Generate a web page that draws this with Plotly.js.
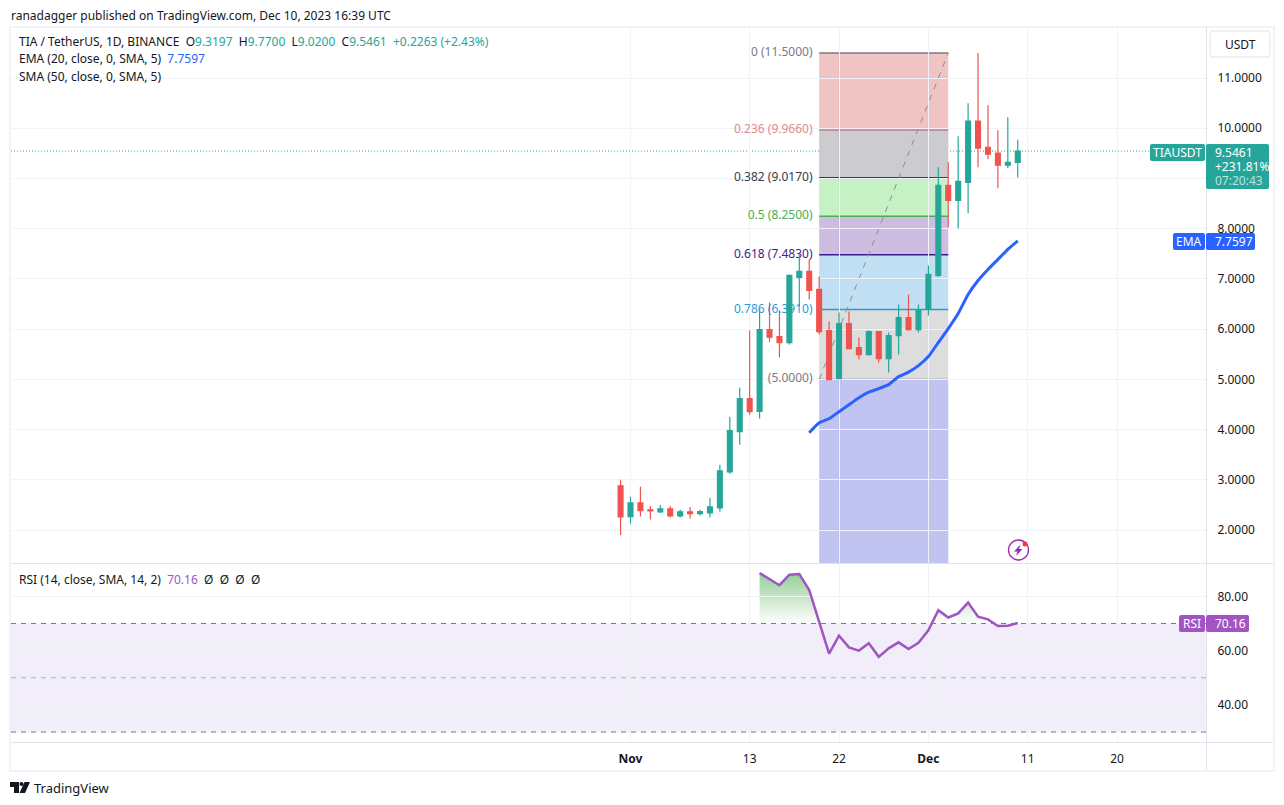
<!DOCTYPE html>
<html><head><meta charset="utf-8">
<script src="https://cdn.plot.ly/plotly-3.0.1.min.js"></script>
<style>html,body{margin:0;padding:0;background:#fff}#c{width:1284px;height:805px}</style></head>
<body><div id="c"></div>
<script>
const dates=["2023-10-31","2023-11-01","2023-11-02","2023-11-03","2023-11-04","2023-11-05","2023-11-06","2023-11-07","2023-11-08","2023-11-09","2023-11-10","2023-11-11","2023-11-12","2023-11-13","2023-11-14","2023-11-15","2023-11-16","2023-11-17","2023-11-18","2023-11-19","2023-11-20","2023-11-21","2023-11-22","2023-11-23","2023-11-24","2023-11-25","2023-11-26","2023-11-27","2023-11-28","2023-11-29","2023-11-30","2023-12-01","2023-12-02","2023-12-03","2023-12-04","2023-12-05","2023-12-06","2023-12-07","2023-12-08","2023-12-09","2023-12-10"];
const open=[2.88,2.268,2.541,2.402,2.362,2.422,2.282,2.362,2.328,2.342,2.441,3.16,3.958,4.616,4.363,5.993,5.853,5.733,7.03,7.15,6.791,5.973,5.015,6.112,5.633,5.494,5.953,5.414,5.873,6.232,5.993,6.392,7.07,8.865,8.566,8.925,10.142,9.623,9.504,9.264,9.3197];
const high=[3.0,2.661,2.86,2.481,2.501,2.481,2.402,2.461,2.402,2.641,3.3,4.257,4.836,5.973,6.392,6.531,6.372,7.09,7.489,7.389,7.05,6.152,6.332,6.352,5.833,5.973,5.953,5.933,6.491,6.691,6.491,7.269,9.224,9.324,9.843,10.501,11.499,10.461,9.963,10.222,9.77];
const low=[1.903,2.128,2.268,2.208,2.342,2.248,2.248,2.228,2.288,2.248,2.362,3.12,3.698,4.297,4.223,5.739,5.434,5.693,6.457,6.591,5.893,4.995,5.015,5.613,5.394,5.474,5.334,5.135,5.494,5.973,5.933,6.272,7.04,8.028,8.008,8.307,9.224,9.384,8.806,9.205,9.02];
const close=[2.262,2.541,2.388,2.382,2.422,2.282,2.362,2.328,2.368,2.461,3.18,3.978,4.616,4.357,5.993,5.839,5.733,7.07,7.15,6.771,5.953,4.995,6.112,5.613,5.494,5.953,5.414,5.873,6.232,5.993,6.392,7.09,8.865,8.566,8.945,10.142,9.604,9.484,9.264,9.324,9.5461];
const emaDates=dates.slice(19);
const ema=[3.938,4.137,4.217,4.357,4.496,4.636,4.746,4.816,4.895,5.055,5.145,5.274,5.454,5.733,6.013,6.312,6.691,6.97,7.19,7.389,7.589,7.7597];
const rsiDates=dates.slice(14);
const rsi=[88.6,86.4,84.1,88.0,88.25,82.3,70.6,58.9,65.5,61.2,60.0,62.7,57.7,60.85,63.05,60.6,62.9,67.5,74.9,72.2,73.7,77.7,72.5,71.5,69.05,69.2,70.16];
const fibPrices=[11.5,9.966,9.017,8.25,7.483,6.391,5.0];
const fibLabels=["0 (11.5000)","0.236 (9.9660)","0.382 (9.0170)","0.5 (8.2500)","0.618 (7.4830)","0.786 (6.3910)","(5.0000)"];
const fibStart="2023-11-20", fibEnd="2023-12-03";
const priceTicks=[2,3,4,5,6,7,8,9,10,11];
const priceTickLabels=["2.0000","3.0000","4.0000","5.0000","6.0000","7.0000","8.0000","","10.0000","11.0000"];
const rsiTicks=[80,60,40];
const rsiTickLabels=["80.00","60.00","40.00"];
const xTicks=["2023-11-01","2023-11-13","2023-11-22","2023-12-01","2023-12-11","2023-12-20"];
const xTickLabels=["<b>Nov</b>","13","22","<b>Dec</b>","11","20"];
const lastPrice=9.5461, lastEma=7.7597, lastRsi=70.16;

const FONT='"Noto Sans", sans-serif', INK='#131722', TEAL='#26a69a', RED='#ef5350', BLUE='#2962ff', PURP='#a154c2';
const W=1206-11, H=742-27-0, T=27;
const px=x=>(x-11)/1195, py=y=>(742-y)/715;
const fibLevelColors=['#787b86','#cc7a80','#3a3d46','#4caf50','#3f1d91','#2b9bd8','#787b86'];
const fibBandColors=['#f1c4c4','#cccbd0','#c5f1c5','#cdbde0','#c2e0f3','#dddddd','#c1c3f0'];
const yMin=1.334,yMax=12.017;
const rsiMin=26.33,rsiMax=92.1;

const shapes=[];
const pLine=(x0,y0,x1,y1,c,w,layer)=>shapes.push({type:'line',xref:'paper',yref:'paper',x0:px(x0),y0:py(y0),x1:px(x1),y1:py(y1),line:{color:c,width:w},layer:layer||'above'});
const rr=(x0,y0,x1,y1,r)=>`M${px(x0+r)},${py(y0)} L${px(x1-r)},${py(y0)} Q${px(x1)},${py(y0)} ${px(x1)},${py(y0+r)} L${px(x1)},${py(y1-r)} Q${px(x1)},${py(y1)} ${px(x1-r)},${py(y1)} L${px(x0+r)},${py(y1)} Q${px(x0)},${py(y1)} ${px(x0)},${py(y1-r)} L${px(x0)},${py(y0+r)} Q${px(x0)},${py(y0)} ${px(x0+r)},${py(y0)} Z`;
const tag=(x0,y0,x1,y1,c,line)=>shapes.push({type:'path',xref:'paper',yref:'paper',path:rr(x0,y0,x1,y1,2),fillcolor:c,line:line||{width:0},layer:'above'});
const poly=(pts,c)=>shapes.push({type:'path',xref:'paper',yref:'paper',path:'M'+pts.map(p=>px(p[0])+','+py(p[1])).join(' L')+' Z',fillcolor:c,line:{width:0},layer:'above'});

// fib bands
fibPrices.forEach((p,i)=>{
  const bottom=i<fibPrices.length-1?fibPrices[i+1]:yMin;
  shapes.push({type:'rect',xref:'x',yref:'y',x0:fibStart,x1:fibEnd,y0:bottom,y1:p,fillcolor:fibBandColors[i],line:{width:0},layer:'below'});
});
priceTicks.forEach(t=>{ if(t>=yMin) shapes.push({type:'line',xref:'x',yref:'y',x0:fibStart,x1:fibEnd,y0:t,y1:t,line:{color:'rgba(60,60,90,.05)',width:1},layer:'below'}); });
["2023-11-22","2023-12-01"].forEach(t=>shapes.push({type:'line',xref:'x',yref:'y',x0:t,x1:t,y0:yMin,y1:11.5,line:{color:'rgba(60,60,90,.07)',width:1},layer:'below'}));
fibPrices.forEach((p,i)=>shapes.push({type:'line',xref:'x',yref:'y',x0:fibStart,x1:fibEnd,y0:p,y1:p,line:{color:fibLevelColors[i],width:1.4},layer:'below'}));
shapes.push({type:'line',xref:'x',yref:'y',x0:fibStart,x1:fibEnd,y0:fibPrices[6],y1:fibPrices[0],line:{color:'#8a8d96',width:1,dash:'6px,6px'},layer:'below'});
// price line
shapes.push({type:'line',xref:'paper',yref:'y',x0:0,x1:px(1150),y0:lastPrice,y1:lastPrice,line:{color:TEAL,width:1,dash:'1px,2px'},layer:'below'});
// RSI band
shapes.push({type:'rect',xref:'paper',yref:'y4',x0:0,x1:1,y0:30,y1:70,fillcolor:'rgba(126,87,194,.1)',line:{width:0},layer:'below'});
[[70,'#787b86'],[50,'rgba(120,123,134,.55)'],[30,'#787b86']].forEach(a=>shapes.push({type:'line',xref:'paper',yref:'y4',x0:0,x1:1,y0:a[0],y1:a[0],line:{color:a[1],width:1,dash:'5px,5px'},layer:'below'}));
// frame
const FR='#f0f3fa',SEP='#e0e3eb';
pLine(10,27,1274,27,FR,2);pLine(10,771,1274,771,FR,2);pLine(10,26,10,772,FR,2);pLine(1274,26,1274,772,FR,2);
pLine(1206.5,28,1206.5,770,SEP,1);pLine(11,563.5,1273,563.5,SEP,1);pLine(11,742.5,1273,742.5,SEP,1);
// button + tags
tag(1210,31,1270,57,'#ffffff',{color:SEP,width:1});
tag(1150,144,1205,161,TEAL);tag(1206,144,1269,189,TEAL);
tag(1173,233,1205,250,BLUE);tag(1206,233,1255,250,BLUE);
tag(1179,615,1205,632,PURP);tag(1206,615,1249,632,PURP);
// alert icon
shapes.push({type:'circle',xref:'paper',yref:'paper',x0:px(1008.5),x1:px(1028.5),y0:py(540),y1:py(560),line:{color:'#9c27b0',width:1.3},fillcolor:'rgba(0,0,0,0)',layer:'above'});
poly([[1020.5,544.5],[1014,551.5],[1017.5,551.5],[1016,556],[1022.5,549],[1019,549]],'#9c27b0');
shapes.push({type:'circle',xref:'paper',yref:'paper',x0:px(1022.5),x1:px(1027.5),y0:py(541.5),y1:py(546.5),line:{width:0},fillcolor:'#f23645',layer:'above'});
// logo
poly([[10,782],[19,782],[19,793],[14,793],[14,787],[10,787]],INK);
poly([[24.5,782],[30,782],[25,793],[19.5,793]],INK);
shapes.push({type:'circle',xref:'paper',yref:'paper',x0:px(19.5),x1:px(23.5),y0:py(782),y1:py(786),line:{width:0},fillcolor:INK,layer:'above'});

const note=(x,y,text,o)=>Object.assign({xref:'paper',yref:'paper',x:px(x),y:py(y),text:text,showarrow:false,xanchor:'left',yanchor:'middle',borderpad:0,font:{family:FONT,size:12,color:INK}},o||{});
const s=(t,c)=>`<span style="color:${c}">${t}</span>`;
const annotations=[
 note(10,15,'ranadagger published on TradingView.com, Dec 10, 2023 16:39 UTC'),
 note(18,42,'TIA / TetherUS, 1D, BINANCE  O'+s('9.3197',TEAL)+'  H'+s('9.7700',TEAL)+'  L'+s('9.0200',TEAL)+'  C'+s('9.5461',TEAL)+'  '+s('+0.2263 (+2.43%)',TEAL)),
 note(18,59,'EMA (20, close, 0, SMA, 5)  '+s('7.7597',BLUE)),
 note(18,76,'SMA (50, close, 0, SMA, 5)'),
 note(18,579,'RSI (14, close, SMA, 14, 2)  '+s('70.16',PURP)+'  Ø  Ø  Ø  Ø'),
 note(33,787.5,'TradingView',{font:{family:FONT,size:13,color:INK}}),
 note(1240,44.5,'USDT',{xanchor:'center'}),
 note(1177.5,152.5,'TIAUSDT',{xanchor:'center',font:{family:FONT,size:12,color:'#fff'}}),
 note(1214,152.5,lastPrice.toFixed(4),{font:{family:FONT,size:12,color:'#fff'}}),
 note(1214,166.5,'+231.81%',{font:{family:FONT,size:12,color:'#fff'}}),
 note(1214,180.5,'07:20:43',{font:{family:FONT,size:12,color:'rgba(255,255,255,.7)'}}),
 note(1189,241.5,'EMA',{xanchor:'center',font:{family:FONT,size:12,color:'#fff'}}),
 note(1214,241.5,lastEma.toFixed(4),{font:{family:FONT,size:12,color:'#fff'}}),
 note(1192,623.5,'RSI',{xanchor:'center',font:{family:FONT,size:12,color:'#fff'}}),
 note(1214,623.5,lastRsi.toFixed(2),{font:{family:FONT,size:12,color:'#fff'}})
];

const traces=[
 {type:'scatter',mode:'text',x:fibPrices.map(()=> '2023-11-19T08:00'),y:fibPrices,text:fibLabels,textposition:'middle left',textfont:{family:FONT,size:12,color:['#787b86','#e08a8f','#3a3d46','#4caf50','#3f1d91','#2b9bd8','#787b86']},xaxis:'x',yaxis:'y',hoverinfo:'skip',showlegend:false},
 {type:'candlestick',x:dates,open:open,high:high,low:low,close:close,xaxis:'x',yaxis:'y2',whiskerwidth:0,increasing:{line:{color:TEAL,width:1.2},fillcolor:TEAL},decreasing:{line:{color:RED,width:1.2},fillcolor:RED},showlegend:false},
 {type:'scatter',mode:'lines',x:emaDates,y:ema,xaxis:'x',yaxis:'y2',line:{color:BLUE,width:3,shape:'spline',smoothing:.4},showlegend:false},
 {type:'scatter',mode:'lines',x:rsiDates,y:rsi,xaxis:'x',yaxis:'y3',line:{width:0},fill:'tozeroy',fillgradient:{type:'vertical',start:70,stop:90,colorscale:[[0,'rgba(76,175,80,0)'],[1,'rgba(76,175,80,.65)']]},showlegend:false,hoverinfo:'skip'},
 {type:'scatter',mode:'lines',x:rsiDates,y:rsi,xaxis:'x',yaxis:'y4',line:{color:PURP,width:2.5},showlegend:false}
];
const tf={family:FONT,size:12,color:INK};
const GRID='#f0f3fa';
const layout={
 width:1284,height:805,margin:{l:11,r:78,t:27,b:63,pad:0},paper_bgcolor:'#fff',plot_bgcolor:'rgba(0,0,0,0)',showlegend:false,hovermode:false,
 font:{family:FONT,size:12,color:INK},
 xaxis:{type:'date',range:['2023-08-30T14:38','2023-12-28T23:00'],domain:[0,1],anchor:'y4',tickmode:'array',tickvals:xTicks,ticktext:xTickLabels,tickfont:tf,showgrid:true,gridcolor:GRID,gridwidth:1,zeroline:false,showline:false,ticks:'outside',ticklen:6,tickcolor:'rgba(0,0,0,0)',rangeslider:{visible:false}},
 yaxis:{domain:[py(563.5),1],range:[yMin,yMax],side:'right',anchor:'x',tickmode:'array',tickvals:priceTicks,ticktext:priceTickLabels,tickfont:tf,gridcolor:GRID,showgrid:true,zeroline:false,showline:false,ticks:'outside',ticklen:8,tickcolor:'rgba(0,0,0,0)'},
 yaxis2:{overlaying:'y',range:[yMin,yMax],side:'right',anchor:'x',showticklabels:false,showgrid:false,zeroline:false,ticks:''},
 yaxis3:{domain:[py(623.4),py(563.5)],range:[70,rsiMax],side:'right',anchor:'x',showticklabels:false,showgrid:false,zeroline:false,ticks:''},
 yaxis4:{domain:[0,py(563.5)],range:[rsiMin,rsiMax],side:'right',anchor:'x',tickmode:'array',tickvals:rsiTicks,ticktext:rsiTickLabels,tickfont:tf,gridcolor:GRID,showgrid:true,zeroline:false,showline:false,ticks:'outside',ticklen:8,tickcolor:'rgba(0,0,0,0)'},
 shapes:shapes,annotations:annotations
};
Plotly.newPlot('c',traces,layout,{displayModeBar:false,staticPlot:true});
</script></body></html>
